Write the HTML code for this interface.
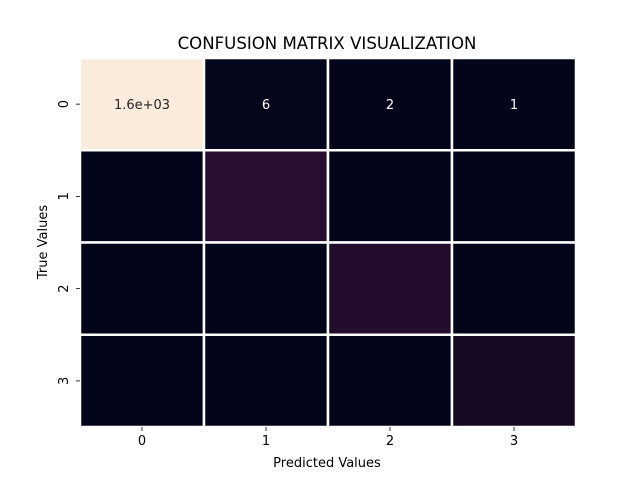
<!DOCTYPE html>
<html><head><meta charset="utf-8"><style>body{margin:0;background:#fff}svg{display:block;font-family:"DejaVu Sans","Liberation Sans",sans-serif}</style></head>
<body>
<svg id="c" width="640" height="480">
<text x="327" y="49" text-anchor="middle" font-size="16.6">CONFUSION MATRIX VISUALIZATION</text>
<text x="327" y="467" text-anchor="middle" font-size="13">Predicted Values</text>
<text transform="translate(47,242) rotate(-90)" text-anchor="middle" font-size="13">True Values</text>
<g id="cells"></g>
</svg>
<script>
const categories = ["0","1","2","3"];
const matrix = [
  [1600, 6, 2, 1],
  [0, 142, 0, 0],
  [0, 0, 120, 0],
  [0, 0, 0, 68]
];
const annotations = [
  ["1.6e+03","6","2","1"],
  ["","","",""],
  ["","","",""],
  ["","","",""]
];
const NS="http://www.w3.org/2000/svg";
const L=80,R=576,T=58,B=427;
const n=categories.length;
const cw=(R-L)/n, ch=(B-T)/n;
const vmax=Math.max(...matrix.flat()), vmin=Math.min(...matrix.flat());
const stops=[[0,[3,5,26]],[0.25,[113,31,87]],[0.5,[203,27,79]],[0.75,[245,123,84]],[1,[250,235,221]]];
function color(v){const t=(v-vmin)/(vmax-vmin||1);for(let i=1;i<stops.length;i++){if(t<=stops[i][0]){const a=stops[i-1],b=stops[i];const f=(t-a[0])/(b[0]-a[0]);return `rgb(${a[1].map((c,k)=>Math.round(c+f*(b[1][k]-c))).join(",")})`;}}return "rgb(250,235,221)";}
const xs=i=>L+i*cw, ys=j=>T+j*ch;
const g=document.getElementById('cells'), svg=document.getElementById('c');
function mk(tag,attrs,parent){const e=document.createElementNS(NS,tag);for(const k in attrs)e.setAttribute(k,attrs[k]);(parent||svg).appendChild(e);return e;}
matrix.forEach((row,r)=>row.forEach((v,c)=>{
  const rect=mk('rect',{x:xs(c),y:ys(r),width:cw,height:ch,fill:color(v),stroke:'#fff','stroke-width':2.5},g);
  
  
  const a=annotations[r][c];
  if(a){const t=(v-vmin)/(vmax-vmin);
    const tx=mk('text',{x:xs(c)+cw/2,y:ys(r)+ch/2+5,'text-anchor':'middle','font-size':13,fill:t>0.5?'#262626':'#fff'},g);
    tx.textContent=a;
    
    }
}));
categories.forEach((cat,i)=>{
  const x=xs(i)+cw/2;
  const tk=mk('line',{x1:x,x2:x,y1:B,y2:B+4,stroke:'#000','stroke-width':0.8});
  
  
  const t=mk('text',{x:x,y:B+18,'text-anchor':'middle','font-size':13});
  t.textContent=cat;
  
  
  const y=ys(i)+ch/2;
  const tk2=mk('line',{x1:L-4,x2:L,y1:y,y2:y,stroke:'#000','stroke-width':0.8});
  
  
  const t2=mk('text',{transform:`translate(68,${y}) rotate(-90)`,'text-anchor':'middle','font-size':13});
  t2.textContent=cat;
  
  
});
</script>
</body></html>
